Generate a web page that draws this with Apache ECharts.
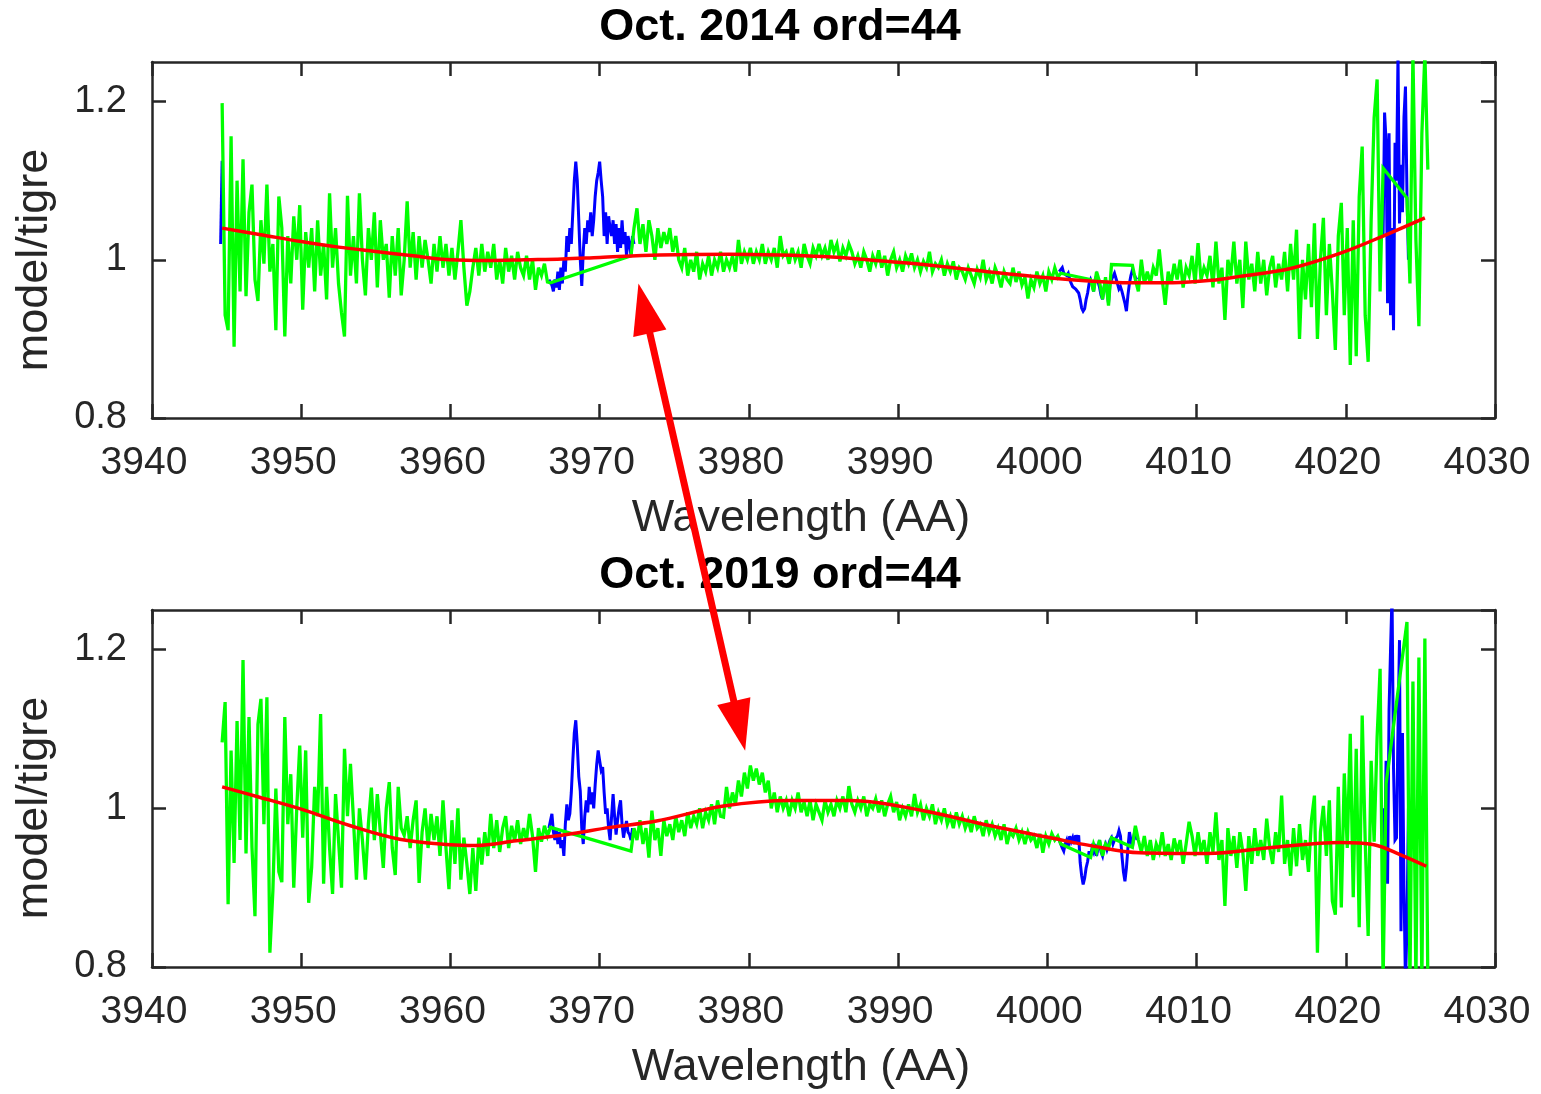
<!DOCTYPE html>
<html>
<head>
<meta charset="utf-8">
<script src="https://cdn.jsdelivr.net/npm/echarts@6/dist/echarts.min.js"></script>
<style>
html,body{margin:0;padding:0;background:#fff;}
#chart{width:1541px;height:1094px;}
</style>
</head>
<body>
<div id="chart"></div>
<script>
// ---------------- DATA ----------------
const panelTitles = ['Oct. 2014 ord=44', 'Oct. 2019 ord=44'];
const xTitle = 'Wavelength (AA)';
const yTitle = 'model/tigre';
const xRange = [3940, 4030];
const yRange = [0.8, 1.25];

// green (masked) spectrum, 0.2 AA grid starting at 3944.7; null = masked out
const greenStart = 3944.7, greenStep = 0.2;
const n = null;
const green2014 = [
  1.198,0.93,0.911,1.156,0.89,1.10,0.96,1.127,0.954,1.06,        // 3944.7
  1.095,0.975,0.948,1.05,0.995,1.095,0.985,1.02,0.911,1.08,      // 3946.7
  1.04,0.903,1.03,0.97,1.055,1.0,1.069,0.937,1.035,0.99,         // 3948.7
  1.04,0.96,1.05,0.98,1.02,0.95,1.084,0.99,1.04,0.97,            // 3950.7
  0.933,0.903,1.081,0.98,1.03,0.97,1.084,1.0,0.955,1.04,         // 3952.7
  1.0,1.06,0.965,1.05,1.0,1.02,0.952,1.03,0.98,1.04,             // 3954.7
  0.955,1.0,1.074,0.99,1.035,0.975,1.03,0.99,1.025,1.0,          // 3956.7
  0.97,1.02,0.985,1.03,0.99,1.02,0.98,1.015,0.975,1.01,          // 3958.7
  1.05,0.99,0.942,0.96,0.99,1.015,0.98,1.02,0.985,1.01,          // 3960.7
  0.99,1.02,0.975,1.0,0.97,1.015,0.985,1.005,0.975,1.01,         // 3962.7
  0.99,0.98,1.005,0.975,1.0,0.962,0.99,0.98,0.995,0.972,         // 3964.7
  0.971,n,n,n,n,n,n,n,n,n,                                       // 3966.7
  n,n,n,n,n,n,n,n,n,n,                                           // 3968.7
  n,n,n,n,n,n,n,1.005,1.04,1.065,                                // 3970.7
  1.02,1.045,1.01,1.05,1.03,1.0,1.04,1.015,1.035,1.02,           // 3972.7
  1.04,1.01,1.03,1.0,0.99,1.015,0.98,1.0,0.985,1.01,             // 3974.7
  0.975,0.995,0.985,1.005,0.98,1.0,0.99,1.01,0.985,1.0,          // 3976.7
  0.99,1.005,0.985,1.025,0.995,1.01,1.0,1.015,0.995,1.01,        // 3978.7
  1.0,1.02,0.995,1.01,1.0,1.015,0.99,1.03,1.005,1.01,            // 3980.7
  0.995,1.015,1.0,1.01,0.99,1.02,1.005,0.995,1.015,1.005,        // 3982.7
  1.02,1.005,1.015,1.0,1.025,1.01,1.02,0.998,1.015,1.005,        // 3984.7
  1.02,1.01,0.995,1.005,0.99,1.01,1.0,0.985,1.005,0.995,         // 3986.7
  1.012,0.99,1.005,0.98,1.0,1.01,0.99,1.0,0.985,1.005,           // 3988.7
  0.995,1.008,0.99,1.0,0.985,0.998,0.99,1.01,0.985,0.995,        // 3990.7
  0.99,1.0,0.98,0.995,0.985,0.998,0.975,0.99,0.985,0.975,        // 3992.7
  0.99,0.98,0.97,0.988,0.978,1.0,0.975,0.985,0.97,0.99,          // 3994.7
  0.98,0.965,0.985,0.975,0.97,0.99,0.972,0.985,0.968,0.978,      // 3996.7
  0.951,0.975,0.965,0.985,0.97,0.98,0.96,0.985,0.975,0.99,       // 3998.7
  0.978,0.983,n,n,n,n,n,n,n,n,                                   // 4000.7
  n,0.975,0.96,0.985,0.972,0.95,0.978,0.942,0.994,n,             // 4002.7
  n,n,n,n,n,0.993,0.975,0.96,1.0,0.97,                           // 4004.7
  0.985,0.97,0.99,0.98,1.013,0.975,0.943,0.985,0.97,0.995,       // 4006.7
  0.975,1.0,0.965,0.99,0.98,1.005,0.97,1.021,0.975,0.99,         // 4008.7
  0.98,1.005,0.965,1.023,0.97,0.99,0.924,1.0,0.98,1.023,         // 4010.7
  0.97,1.0,0.939,1.023,0.975,0.995,0.96,1.01,0.97,1.0,           // 4012.7
  0.955,0.99,1.005,0.965,0.995,0.975,1.01,0.96,1.02,0.975,       // 4014.7
  1.038,0.90,1.0,0.95,1.02,0.94,1.046,0.90,1.0,1.053,            // 4016.7
  0.93,1.02,0.96,0.886,1.03,1.072,0.93,1.04,0.867,1.05,          // 4018.7
  0.878,1.08,1.143,0.93,0.871,1.05,1.179,1.228,0.96,1.116,       // 4020.7
  n,n,n,n,n,n,n,1.078,0.97,1.26,                                 // 4022.7
  1.025,0.916,1.16,1.26,1.114                                    // 4024.7
];
const green2019 = [
  1.083,1.134,0.879,1.073,0.931,1.11,0.96,1.187,0.943,1.115,     // 3944.7
  0.951,0.864,1.106,1.138,0.98,1.14,0.818,0.896,1.025,0.92,      // 3946.7
  0.907,1.115,0.98,1.043,0.90,1.0,1.079,0.963,1.073,0.881,       // 3948.7
  0.926,1.027,0.99,1.119,0.905,1.027,0.95,0.892,1.018,0.96,      // 3950.7
  0.90,1.075,0.99,1.056,0.986,0.91,1.0,0.96,0.91,0.98,           // 3952.7
  1.026,0.96,1.018,0.97,0.925,1.0,1.033,0.95,0.916,1.027,        // 3954.7
  0.975,0.966,0.99,0.95,0.985,1.01,0.906,0.97,1.0,0.95,          // 3956.7
  0.993,0.96,0.99,0.94,1.01,0.95,0.898,0.985,0.93,1.0,           // 3958.7
  0.91,0.963,0.93,0.892,0.95,0.896,0.963,0.929,0.97,0.94,        // 3960.7
  0.993,0.95,0.985,0.945,0.975,0.99,0.95,0.978,0.959,0.985,      // 3962.7
  0.955,0.975,0.96,0.993,0.965,0.92,0.975,0.958,0.978,0.965,     // 3964.7
  0.976,n,n,n,n,n,n,n,n,n,                                       // 3966.7
  n,n,n,n,n,n,n,n,n,n,                                           // 3968.7
  n,n,n,n,n,n,n,0.946,0.975,0.96,                                // 3970.7
  0.985,0.955,0.975,0.938,0.997,0.96,0.975,0.94,0.985,0.965,     // 3972.7
  0.98,0.96,0.99,0.97,0.985,0.965,0.995,0.975,0.99,0.98,         // 3974.7
  1.0,0.975,0.995,0.985,1.005,0.98,1.01,0.99,0.989,1.027,        // 3976.7
  1.0,1.02,1.005,1.035,1.015,1.045,1.025,1.054,1.035,1.05,       // 3978.7
  1.03,1.045,1.02,1.035,1.0,1.02,0.995,1.015,1.0,1.01,           // 3980.7
  0.99,1.01,1.0,1.02,0.995,1.008,0.99,1.01,0.985,1.005,          // 3982.7
  0.995,0.985,1.01,0.995,1.005,0.99,1.01,1.0,1.015,0.995,        // 3984.7
  1.028,1.005,0.995,1.01,1.0,1.015,0.99,1.005,1.0,1.012,         // 3986.7
  0.995,1.01,0.99,1.005,1.015,0.995,1.008,0.985,1.0,0.99,        // 3988.7
  1.005,0.99,1.018,0.995,1.005,0.985,1.0,0.99,1.005,0.98,        // 3990.7
  0.995,0.985,1.0,0.98,0.99,0.975,0.995,0.98,0.99,0.975,         // 3992.7
  0.985,0.97,0.99,0.975,0.98,0.965,0.985,0.97,0.98,0.965,        // 3994.7
  0.975,0.96,0.98,0.955,0.97,0.965,0.975,0.96,0.97,0.955,        // 3996.7
  0.97,0.96,0.965,0.95,0.968,0.944,0.965,0.955,0.968,0.96,       // 3998.7
  0.965,0.955,n,n,n,n,n,n,n,n,                                   // 4000.7
  n,0.938,0.955,0.945,0.96,0.94,0.955,0.95,0.963,n,              // 4002.7
  n,n,n,n,n,0.951,0.978,0.96,0.945,0.965,                        // 4004.7
  0.94,0.96,0.935,0.955,0.945,0.97,0.94,0.955,0.935,0.962,       // 4006.7
  0.945,0.96,0.93,0.955,0.983,0.965,0.94,0.97,0.945,0.96,        // 4008.7
  0.93,0.97,0.945,0.995,0.935,0.96,0.877,0.975,0.94,0.965,       // 4010.7
  0.925,0.97,0.945,0.896,0.965,0.93,0.975,0.94,0.96,0.935,       // 4012.7
  0.987,0.95,0.93,0.97,0.945,1.016,0.93,0.96,0.915,0.975,        // 4014.7
  0.927,0.98,0.935,0.96,0.92,0.985,1.016,0.818,0.97,1.003,       // 4016.7
  0.94,1.01,0.883,0.866,1.027,0.875,1.044,0.95,1.094,0.888,      // 4018.7
  1.075,0.85,1.117,0.96,0.839,1.06,0.958,1.09,1.176,0.78,        // 4020.7
  1.031,n,n,n,n,n,n,1.235,0.78,1.16,                             // 4022.7
  0.78,1.19,0.78,1.214,0.78                                      // 4024.7
];

// blue (full) spectrum in the masked windows, 0.1 AA grid
const blueStep = 0.1;
const blue2014 = [
  { start: 3944.6, values: [1.02, 1.125] },
  { start: 3966.6, values: [
    0.975,0.971,0.968,0.96,
    0.975,0.965,0.985,0.962,0.99,0.97,1.0,0.985,1.03,1.01,
    1.04,1.02,1.06,1.10,1.124,1.10,1.05,1.0,0.967,1.01,
    1.04,1.02,1.05,1.035,1.06,1.03,1.05,1.08,1.10,1.11,
    1.124,1.10,1.08,1.03,1.06,1.02,1.055,1.04,1.03,1.05,
    1.02,1.045,1.01,1.04,1.015,1.05,1.02,1.035,1.005,1.03,
    1.02,1.005,1.03,1.02] },
  { start: 4000.8, values: [
    0.985,0.987,
    0.99,0.983,0.985,0.98,0.983,0.975,0.97,0.966,0.968,0.963,
    0.962,0.958,0.95,0.939,0.935,0.938,0.95,0.958,0.97,0.975,
    0.97,0.96,0.975,0.98,0.972,0.965,0.955,0.95,0.965,0.975,
    0.96,0.945,0.97,0.975,0.979,0.983,0.985,0.97,0.963,0.966,
    0.96,0.962,0.945,0.935,0.955,0.97,0.98,0.987,0.982,0.978,
    0.975] },
  { start: 4022.5, values: [
    1.03,1.186,1.15,0.945,1.16,0.93,1.04,0.911,1.148,1.10,
    1.26,1.046,1.12,1.06,1.18,1.219,1.084,1.0] }
];
const blue2019 = [
  { start: 3966.6, values: [
    0.975,0.976,0.993,0.97,
    0.96,0.975,0.955,0.97,0.95,0.96,0.94,0.98,1.005,0.985,
    0.993,1.02,1.06,1.095,1.111,1.08,1.04,1.022,0.975,0.955,
    0.99,1.01,0.995,1.027,1.005,1.02,1.0,1.03,1.055,1.073,
    1.06,1.048,1.052,1.02,0.993,1.0,0.975,0.96,0.99,1.018,
    0.99,0.967,0.985,1.0,1.01,0.98,0.963,0.975,0.984,0.97,
    0.967,0.96,0.975,0.965] },
  { start: 4000.8, values: [
    0.96,0.955,
    0.95,0.946,0.955,0.96,0.952,0.965,0.958,0.963,0.955,0.966,
    0.96,0.966,0.932,0.915,0.904,0.912,0.925,0.933,0.946,0.94,
    0.95,0.945,0.955,0.94,0.95,0.96,0.945,0.94,0.95,0.955,
    0.948,0.95,0.96,0.963,0.955,0.96,0.959,0.965,0.972,0.965,
    0.94,0.92,0.908,0.925,0.95,0.97,0.96,0.951,0.965,0.975,
    0.96] },
  { start: 4022.5, values: [
    1.0,0.93,1.06,0.905,1.124,1.2,1.27,1.05,0.96,0.963,
    1.1,1.212,0.845,1.095,0.9,0.78,0.85,1.0] }
];

// red polynomial fits
const red2014Wl  = [3944.7,3947.5,3950,3952.5,3955,3957.5,3960,3962.5,3965,3967.5,3970,3974,3978.7,3982,3985,3988,3991.7,3996,4000.2,4003,4005.5,4008.4,4011,4012.9,4016.3,4019.6,4022.5,4025.3];
const red2014Val = [1.04,1.031,1.023,1.016,1.0105,1.005,1.0,0.999,1.0,1.001,1.003,1.006,1.007,1.006,1.004,1.0,0.994,0.985,0.977,0.973,0.971,0.971,0.974,0.979,0.989,1.008,1.03,1.053];
const red2019Wl  = [3944.7,3947.2,3950,3953.3,3956.6,3960,3961.7,3964.4,3967.8,3970.7,3973.8,3978.3,3982.8,3986.8,3991.7,3996.2,4000.2,4002.9,4006.2,4010.7,4015.2,4019.6,4021.9,4023.6,4025.4];
const red2019Val = [1.027,1.014,0.999,0.978,0.961,0.954,0.953,0.959,0.967,0.976,0.984,1.003,1.01,1.01,0.997,0.978,0.963,0.953,0.944,0.943,0.951,0.957,0.954,0.942,0.927];

// annotation arrow end points (data coordinates): top panel -> bottom panel
const arrowTop = [3972.6, 0.970];
const arrowBottom = [3979.75, 1.0725];

// ---------------- CHART ----------------
const chart = echarts.init(document.getElementById('chart'), null, {renderer: 'canvas'});
const AX = '#262626';
const FONT = '"Liberation Sans", Arial, Helvetica, sans-serif';
const grids = [
  {left: 152, top: 62, width: 1343, height: 356},
  {left: 152, top: 610, width: 1343, height: 357}
];

function gridPairs(values, start, step) {
  const out = [];
  values.forEach((v, i) => { if (v !== null) out.push([+(start + i * step).toFixed(2), v]); });
  return out;
}
function zipPairs(xs, ys) { return xs.map((x, i) => [x, ys[i]]); }

const xAxes = [], yAxes = [], series = [];
const tickStyle = {inside: true, length: 14, lineStyle: {color: AX, width: 2.5}};
const lineStyle = {color: AX, width: 2.5};
[0, 1].forEach(g => {
  xAxes.push({type: 'value', gridIndex: g, position: 'bottom', min: xRange[0], max: xRange[1], interval: 10,
    axisLine: {show: true, onZero: false, lineStyle}, axisTick: tickStyle, splitLine: {show: false},
    axisLabel: {color: AX, fontSize: 39, fontFamily: FONT, margin: 26, padding: [0, 16, 0, 0], formatter: v => String(v)}});
  xAxes.push({type: 'value', gridIndex: g, position: 'top', min: xRange[0], max: xRange[1], interval: 10,
    axisLine: {show: true, onZero: false, lineStyle}, axisTick: tickStyle, splitLine: {show: false},
    axisLabel: {show: false}});
  yAxes.push({type: 'value', gridIndex: g, position: 'left', min: yRange[0], max: yRange[1], interval: 0.2,
    axisLine: {show: true, onZero: false, lineStyle}, axisTick: tickStyle, splitLine: {show: false},
    axisLabel: {color: AX, fontSize: 38, fontFamily: FONT, margin: 25, showMaxLabel: false}});
  yAxes.push({type: 'value', gridIndex: g, position: 'right', min: yRange[0], max: yRange[1], interval: 0.2,
    axisLine: {show: true, onZero: false, lineStyle}, axisTick: tickStyle, splitLine: {show: false},
    axisLabel: {show: false}});
});

function addLine(g, data, color, width) {
  series.push({type: 'line', xAxisIndex: 2 * g, yAxisIndex: 2 * g, data, showSymbol: false, symbol: 'none',
    clip: true, animation: false, silent: true, lineStyle: {color, width, join: 'miter', miterLimit: 4}, z: 2});
}
const blues = [blue2014, blue2019];
const greens = [green2014, green2019];
const reds = [[red2014Wl, red2014Val], [red2019Wl, red2019Val]];
const redSeriesIndex = [];
[0, 1].forEach(g => {
  blues[g].forEach(seg => addLine(g, gridPairs(seg.values, seg.start, blueStep), '#0000ff', 3));
  addLine(g, gridPairs(greens[g], greenStart, greenStep), '#00ff00', 3.3);
  redSeriesIndex.push(series.length);
  addLine(g, zipPairs(reds[g][0], reds[g][1]), '#ff0000', 3.5);
  series[series.length - 1].smooth = 0.35;
});

chart.setOption({
  animation: false,
  backgroundColor: '#ffffff',
  grid: grids,
  xAxis: xAxes,
  yAxis: yAxes,
  series: series
});

// texts and arrow
const graphics = [];
const titleY = [28, 576], xlabY = [519, 1068], ylabY = [260, 808];
[0, 1].forEach(g => {
  graphics.push({type: 'text', x: 780, y: titleY[g], z: 10,
    style: {text: panelTitles[g], font: 'bold 45px ' + FONT, fill: '#000', align: 'center', verticalAlign: 'middle', textAlign: 'center', textVerticalAlign: 'middle'}});
  graphics.push({type: 'text', x: 801, y: xlabY[g], z: 10,
    style: {text: xTitle, font: '45px ' + FONT, fill: AX, align: 'center', verticalAlign: 'middle', textAlign: 'center', textVerticalAlign: 'middle'}});
  graphics.push({type: 'text', x: 35, y: ylabY[g], rotation: Math.PI / 2, z: 10,
    style: {text: yTitle, font: '45px ' + FONT, fill: AX, align: 'center', verticalAlign: 'middle', textAlign: 'center', textVerticalAlign: 'middle'}});
});

const p1 = chart.convertToPixel({seriesIndex: redSeriesIndex[0]}, arrowTop);
const p2 = chart.convertToPixel({seriesIndex: redSeriesIndex[1]}, arrowBottom);
const dx = p2[0] - p1[0], dy = p2[1] - p1[1];
const len = Math.sqrt(dx * dx + dy * dy);
const ux = dx / len, uy = dy / len, nx = -uy, ny = ux;
const HL = 51, HW = 17;
const b1 = [p1[0] + ux * HL, p1[1] + uy * HL];
const b2 = [p2[0] - ux * HL, p2[1] - uy * HL];
graphics.push({type: 'line', z: 20, shape: {x1: b1[0] - ux * 4, y1: b1[1] - uy * 4, x2: b2[0] + ux * 4, y2: b2[1] + uy * 4},
  style: {stroke: '#ff0000', lineWidth: 7}});
graphics.push({type: 'polygon', z: 20, shape: {points: [p1, [b1[0] + nx * HW, b1[1] + ny * HW], [b1[0] - nx * HW, b1[1] - ny * HW]]},
  style: {fill: '#ff0000'}});
graphics.push({type: 'polygon', z: 20, shape: {points: [p2, [b2[0] + nx * HW, b2[1] + ny * HW], [b2[0] - nx * HW, b2[1] - ny * HW]]},
  style: {fill: '#ff0000'}});

chart.setOption({graphic: graphics});
</script>
</body>
</html>
